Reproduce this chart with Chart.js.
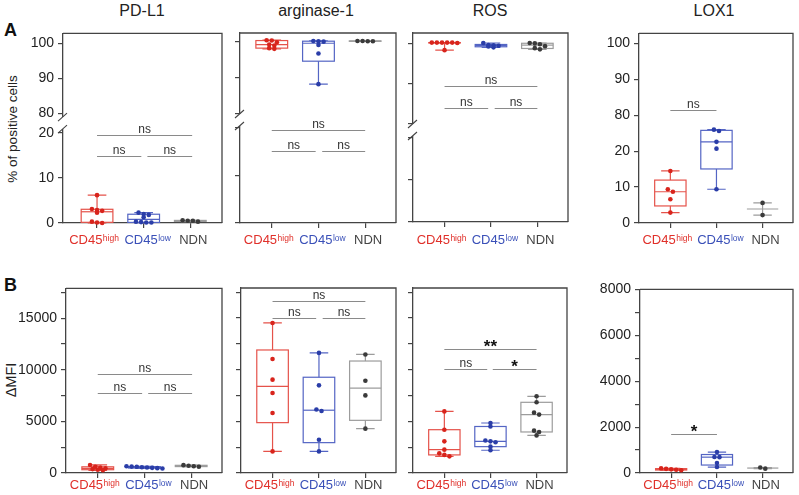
<!DOCTYPE html>
<html>
<head>
<meta charset="utf-8">
<script src="https://cdn.jsdelivr.net/npm/chart.js@4.4.1/dist/chart.umd.min.js"></script>
<style>
  body { margin: 0; background: #fff; width: 799px; height: 495px; overflow: hidden; position: relative;
         font-family: 'Liberation Sans', Arial, sans-serif; }
  canvas { position: absolute; }
  .title { position: absolute; top: 3px; font-size: 16px; line-height: 16px; color: #222; transform: translateX(-50%); white-space: nowrap; }
  .letter { position: absolute; left: 4px; font-size: 18px; line-height: 18px; font-weight: bold; color: #111; }
  .ytitle { position: absolute; color: #222; white-space: nowrap; transform: translate(-50%, -50%) rotate(-90deg); }
</style>
</head>
<body>
<div class="letter" style="top:21px">A</div>
<div class="letter" style="top:276px">B</div>
<div class="ytitle" style="left:12px; top:129px; font-size:13.5px">% of positive cells</div>
<div class="ytitle" style="left:11px; top:380px; font-size:14.5px">ΔMFI</div>
<div class="title" style="left:142px">PD-L1</div>
<div class="title" style="left:316px">arginase-1</div>
<div class="title" style="left:490px">ROS</div>
<div class="title" style="left:714px">LOX1</div>

<script>
Chart.defaults.font.family = "'Liberation Sans', Arial, sans-serif";
Chart.defaults.color = '#222';

// categories
const catMain = ['CD45', 'CD45', 'NDN'];
const catSup = ['high', 'low', ''];
const catColor = ['#e0302a', '#3a50b8', '#444444'];
const catShift = [-3, 4, 3];
const dotColor = ['#d8241c', '#2a3da8', '#3a3a3a'];
const boxColor = ['#e5524a', '#5465c4', '#9c9c9c'];
const axisColor = '#444';

// A: % of positive cells (LOX1 values in its own axis units)
const pdl1High = [6.2, 3.1, 2.9, 2.7, 2.3, 0.3, 0.1, 0.0];
const pdl1Low = [2.3, 2.0, 1.8, 1.3, 0.3, 0.2, 0.1, 0.1];
const pdl1Ndn = [0.6, 0.5, 0.5, 0.3];
const arg1High = [100.4, 100.3, 99.8, 99.2, 98.9, 98.2, 98.0];
const arg1Low = [100.2, 100.1, 100.0, 99.1, 96.7, 88.2];
const arg1Ndn = [100.2, 100.2, 100.1, 100.1];
const rosHigh = [100.2, 100.2, 100.2, 100.2, 100.2, 100.1, 98.3];
const rosLow = [100.1, 99.6, 99.5, 99.4, 99.2, 99.0];
const rosNdn = [100.1, 100.0, 99.8, 99.3, 98.8, 98.5];
const lox1High = [14.5, 9.4, 8.7, 6.6, 2.9];
const lox1Low = [26.0, 25.6, 22.6, 20.7, 9.4];
const lox1Ndn = [5.6, 2.2];

// B: delta MFI
const mfiPdl1High = [780, 600, 520, 450, 380, 320, 260];
const mfiPdl1Low = [650, 620, 600, 560, 530, 500, 470, 440];
const mfiPdl1Ndn = [760, 700, 660, 610];
const mfiArg1High = [14520, 11030, 9030, 7740, 5800, 2090];
const mfiArg1Low = [11620, 8480, 6150, 6000, 3220, 2090];
const mfiArg1Ndn = [11470, 8930, 7510, 4290];
const mfiRosHigh = [5960, 4190, 3060, 2260, 1900, 1750, 1610];
const mfiRosLow = [4840, 4500, 3150, 3060, 2980, 2550, 2200];
const mfiRosNdn = [7420, 6840, 5840, 5650, 4100, 3970, 3640];
const mfiLox1High = [200, 180, 160, 140, 120];
const mfiLox1Low = [910, 700, 690, 434, 260];
const mfiLox1Ndn = [240, 190];

// tick values and labels
const pctTicksTop = [80, 90, 100];
const pctTicksBot = [0, 10, 20];
const lox1TickVals = [0, 10, 20, 30, 40, 50];
const lox1TickText = ['0', '10', '20', '80', '90', '100'];
const mfiTicks = [0, 2500, 5000, 7500, 10000, 12500, 15000, 17500];
const mfiLox1Ticks = [0, 1000, 2000, 3000, 4000, 5000, 6000, 7000, 8000];

// significance brackets: [from, to, value, text]
const pdl1Brackets = [[0, 2.04, 19.6, 'ns'], [0, 0.95, 14.9, 'ns'], [1.08, 2.04, 14.9, 'ns']];
const arg1Brackets = [[0, 2, 19.6, 'ns'], [0, 0.94, 15.2, 'ns'], [1.08, 2, 15.2, 'ns']];
const rosBrackets = [[0, 2, 89.2, 'ns'], [0, 0.94, 83.8, 'ns'], [1.08, 2, 83.8, 'ns']];
const lox1Brackets = [[0, 1, 31.4, 'ns']];
const mfiPdl1Brackets = [[0, 2.02, 9600, 'ns'], [0, 0.95, 7800, 'ns'], [1.08, 2.02, 7800, 'ns']];
const mfiArg1Brackets = [[0, 2, 16600, 'ns'], [0, 0.94, 15000, 'ns'], [1.08, 2, 15000, 'ns']];
const mfiRosBrackets = [[0, 2, 12000, '**'], [0, 0.93, 10100, 'ns'], [1.05, 2, 10100, '*']];
const mfiLox1Brackets = [[0, 1, 1700, '*']];

const pctLabel = v => String(v);
const mfiLabel = v => (v % 5000 === 0 ? String(v) : '');
const mfiLox1Label = v => (v % 2000 === 0 ? String(v) : '');
const lox1Label = v => lox1TickText[lox1TickVals.indexOf(v)] || '';

const panels = [
  { frame: [63, 33, 222, 223], xMin: -0.73, xMax: 2.68, groups: [pdl1High, pdl1Low, pdl1Ndn], showY: true, tickText: pctLabel,
    segs: [{ id: 'yTop', min: 77.1, max: 102.9, px: 90, ticks: pctTicksTop }, { id: 'yBot', min: 0, max: 22.2, px: 100, ticks: pctTicksBot }],
    brackets: pdl1Brackets, labelDy: 21 },
  { frame: [240, 33, 396, 223], groups: [arg1High, arg1Low, arg1Ndn], showY: false, tickText: pctLabel,
    segs: [{ id: 'yTop', min: 78.25, max: 102.4, px: 87, ticks: pctTicksTop }, { id: 'yBot', min: 0, max: 21.6, px: 103, ticks: pctTicksBot }],
    brackets: arg1Brackets, labelDy: 21 },
  { frame: [413, 33, 568, 222], groups: [rosHigh, rosLow, rosNdn], showY: false, tickText: pctLabel,
    segs: [{ id: 'yTop', min: 78.3, max: 102.6, px: 97, ticks: pctTicksTop }, { id: 'yBot', min: 0, max: 21.9, px: 92, ticks: pctTicksBot }],
    brackets: rosBrackets, labelDy: 22 },
  { frame: [639, 33, 793, 223], groups: [lox1High, lox1Low, lox1Ndn], showY: true, tickText: lox1Label,
    segs: [{ id: 'y', min: 0, max: 52.8, px: 190, ticks: lox1TickVals }],
    brackets: lox1Brackets, labelDy: 21 },
  { frame: [66, 288, 222, 473], groups: [mfiPdl1High, mfiPdl1Low, mfiPdl1Ndn], showY: true, tickText: mfiLabel,
    segs: [{ id: 'y', min: 0, max: 17900, px: 185, ticks: mfiTicks }],
    brackets: mfiPdl1Brackets, labelDy: 16 },
  { frame: [241, 288, 396, 473], groups: [mfiArg1High, mfiArg1Low, mfiArg1Ndn], showY: false, tickText: mfiLabel,
    segs: [{ id: 'y', min: 0, max: 17900, px: 185, ticks: mfiTicks }],
    brackets: mfiArg1Brackets, labelDy: 16 },
  { frame: [413, 288, 567, 473], groups: [mfiRosHigh, mfiRosLow, mfiRosNdn], showY: false, tickText: mfiLabel,
    segs: [{ id: 'y', min: 0, max: 17900, px: 185, ticks: mfiTicks }],
    brackets: mfiRosBrackets, labelDy: 16 },
  { frame: [640, 289, 793, 473], groups: [mfiLox1High, mfiLox1Low, mfiLox1Ndn], showY: true, tickText: mfiLox1Label,
    segs: [{ id: 'y', min: 0, max: 8000, px: 184, ticks: mfiLox1Ticks }],
    brackets: mfiLox1Brackets, labelDy: 16 }
];

function quant(s, p) {
  const n = s.length;
  const pos = Math.min(Math.max((n + 1) * p, 1), n);
  const lo = Math.floor(pos), f = pos - lo;
  return lo >= n ? s[n - 1] : s[lo - 1] + f * (s[lo] - s[lo - 1]);
}

function segFor(p, v) {
  return p.segs.find(s => v >= s.min && v <= s.max) || p.segs[p.segs.length - 1];
}

// spread points that sit at about the same height
function jitter(vals, tol) {
  const order = vals.map((v, i) => i).sort((a, b) => vals[b] - vals[a]);
  const offs = vals.map(() => 0);
  let row = [];
  const flush = () => {
    row.forEach((idx, k) => { offs[idx] = (k - (row.length - 1) / 2) * 0.11; });
    row = [];
  };
  order.forEach(i => {
    if (row.length && Math.abs(vals[row[0]] - vals[i]) > tol) flush();
    row.push(i);
  });
  flush();
  return offs;
}

function decor(p) {
  return {
    id: 'decor',
    beforeDatasetsDraw(chart) {
      const ctx = chart.ctx, xs = chart.scales.x;
      p.groups.forEach((vals, i) => {
        const s = [...vals].sort((a, b) => a - b);
        const ys = chart.scales[segFor(p, s[s.length - 1]).id];
        const y = v => ys.getPixelForValue(v);
        const x = xs.getPixelForValue(i);
        const hw = xs.getPixelForValue(i + 0.34) - x;
        const cw = xs.getPixelForValue(i + 0.2) - x;
        const q1 = quant(s, 0.25), med = quant(s, 0.5), q3 = quant(s, 0.75);
        ctx.save();
        ctx.strokeStyle = boxColor[i];
        ctx.lineWidth = 1.2;
        ctx.beginPath();
        ctx.moveTo(x, y(s[0])); ctx.lineTo(x, y(s[s.length - 1]));
        ctx.moveTo(x - cw, y(s[0])); ctx.lineTo(x + cw, y(s[0]));
        ctx.moveTo(x - cw, y(s[s.length - 1])); ctx.lineTo(x + cw, y(s[s.length - 1]));
        ctx.stroke();
        if (s.length > 2) {
          ctx.fillStyle = '#fff';
          ctx.fillRect(x - hw, y(q3), 2 * hw, y(q1) - y(q3));
          ctx.strokeRect(x - hw, y(q3), 2 * hw, y(q1) - y(q3));
        }
        ctx.beginPath();
        ctx.moveTo(x - hw, y(med)); ctx.lineTo(x + hw, y(med));
        ctx.stroke();
        ctx.restore();
      });
    },
    afterDraw(chart) {
      const ctx = chart.ctx, a = chart.chartArea, xs = chart.scales.x;
      ctx.save();
      // top and right frame
      ctx.strokeStyle = axisColor;
      ctx.lineWidth = 1.3;
      ctx.beginPath();
      ctx.moveTo(a.left, a.top); ctx.lineTo(a.right, a.top); ctx.lineTo(a.right, a.bottom);
      ctx.stroke();
      // axis break
      if (p.segs.length > 1) {
        const j = chart.scales[p.segs[0].id].bottom;
        ctx.clearRect(a.left - 2, j - 6, 4, 12);
        ctx.lineWidth = 1.1;
        ctx.beginPath();
        [j - 6, j + 6].forEach(yy => { ctx.moveTo(a.left - 5, yy + 4); ctx.lineTo(a.left + 4, yy - 4); });
        ctx.stroke();
      }
      // brackets
      p.brackets.forEach(([from, to, v, txt]) => {
        const ys = chart.scales[segFor(p, v).id];
        const yy = Math.round(ys.getPixelForValue(v)) + 0.5;
        const x0 = xs.getPixelForValue(from), x1 = xs.getPixelForValue(to);
        ctx.strokeStyle = '#8a8a8a';
        ctx.lineWidth = 1;
        ctx.beginPath(); ctx.moveTo(x0, yy); ctx.lineTo(x1, yy); ctx.stroke();
        ctx.textAlign = 'center';
        ctx.textBaseline = 'alphabetic';
        if (txt.includes('*')) {
          ctx.font = "bold 17px 'Liberation Sans', Arial, sans-serif";
          ctx.fillStyle = '#111';
          ctx.fillText(txt, (x0 + x1) / 2, yy + 2);
        } else {
          ctx.font = "12px 'Liberation Sans', Arial, sans-serif";
          ctx.fillStyle = '#333';
          ctx.fillText(txt, (x0 + x1) / 2, yy - 3);
        }
      });
      // category labels with superscripts
      ctx.textAlign = 'left';
      ctx.textBaseline = 'alphabetic';
      catMain.forEach((m, i) => {
        const x = xs.getPixelForValue(i) + catShift[i], base = a.bottom + p.labelDy;
        ctx.font = "13px 'Liberation Sans', Arial, sans-serif";
        const wm = ctx.measureText(m).width;
        ctx.font = "8.5px 'Liberation Sans', Arial, sans-serif";
        const ws = catSup[i] ? ctx.measureText(catSup[i]).width + 0.5 : 0;
        const x0 = x - (wm + ws) / 2;
        ctx.fillStyle = catColor[i];
        ctx.font = "13px 'Liberation Sans', Arial, sans-serif";
        ctx.fillText(m, x0, base);
        if (catSup[i]) {
          ctx.font = "8.5px 'Liberation Sans', Arial, sans-serif";
          ctx.fillText(catSup[i], x0 + wm + 0.5, base - 3.5);
        }
      });
      ctx.restore();
    }
  };
}

const axW = 60, axH = 30, padT = 6, padR = 4;

function buildChart(p, ext) {
  const [L, T, R, B] = p.frame;
  const canvas = document.createElement('canvas');
  canvas.width = R - L + axW + padR + ext.l + ext.r;
  canvas.height = B - T + padT + axH + ext.t + ext.b;
  canvas.style.left = (L - axW - ext.l) + 'px';
  canvas.style.top = (T - padT - ext.t) + 'px';
  document.body.appendChild(canvas);

  const stacked = p.segs.length > 1;
  const scales = {
    x: {
      type: 'linear', min: p.xMin ?? -0.68, max: p.xMax ?? 2.66,
      afterBuildTicks: sc => { sc.ticks = [0, 1, 2].map(v => ({ value: v })); },
      ticks: { display: false },
      grid: { drawOnChartArea: false, tickLength: 5, color: axisColor, lineWidth: 1.2 },
      border: { color: axisColor, width: 1.3 },
      afterFit: sc => { sc.height = axH; }
    }
  };
  // bottom segment first, top segment gets the higher weight
  [...p.segs].reverse().forEach((sg, k) => {
    const cfg = {
      type: 'linear', position: 'left', min: sg.min, max: sg.max,
      weight: k,
      afterBuildTicks: sc => { sc.ticks = sg.ticks.filter(v => v >= sg.min && v <= sg.max).map(v => ({ value: v })); },
      ticks: { display: p.showY, callback: v => p.tickText(v), font: { size: 14 }, color: '#222', padding: 4, autoSkip: false },
      grid: { drawOnChartArea: false, tickLength: 5, color: axisColor, lineWidth: 1.2 },
      border: { color: axisColor, width: 1.3 },
      afterFit: sc => { sc.width = axW; }
    };
    if (stacked) { cfg.stack = 'pct'; cfg.stackWeight = sg.px; }
    scales[sg.id] = cfg;
  });

  const datasets = [];
  p.groups.forEach((vals, i) => {
    p.segs.forEach(sg => {
      const inSeg = vals.filter(v => segFor(p, v) === sg);
      if (!inSeg.length) return;
      const offs = jitter(inSeg, 3.5 * (sg.max - sg.min) / sg.px);
      datasets.push({
        data: inSeg.map((v, k) => ({ x: i + offs[k], y: v })),
        yAxisID: sg.id,
        pointRadius: 2.3,
        pointBackgroundColor: dotColor[i],
        pointBorderWidth: 0,
        showLine: false,
        clip: false
      });
    });
  });

  const chart = new Chart(canvas, {
    type: 'scatter',
    data: { datasets },
    options: {
      responsive: false,
      maintainAspectRatio: false,
      animation: false,
      devicePixelRatio: 1,
      events: [],
      layout: { padding: { top: padT, right: padR, left: 0, bottom: 0 }, autoPadding: false },
      plugins: { legend: { display: false }, tooltip: { enabled: false } },
      scales
    },
    plugins: [decor(p)]
  });
  return { chart, canvas };
}

panels.forEach(p => {
  const first = buildChart(p, { l: 0, t: 0, r: 0, b: 0 });
  const a = first.chart.chartArea, c = first.canvas;
  const ext = {
    l: Math.round(a.left - axW),
    t: Math.round(a.top - padT),
    r: Math.round(c.width - padR - a.right),
    b: Math.round(c.height - axH - a.bottom)
  };
  if (ext.l || ext.t || ext.r || ext.b) {
    first.chart.destroy();
    c.remove();
    buildChart(p, ext);
  }
});
</script>
</body>
</html>
